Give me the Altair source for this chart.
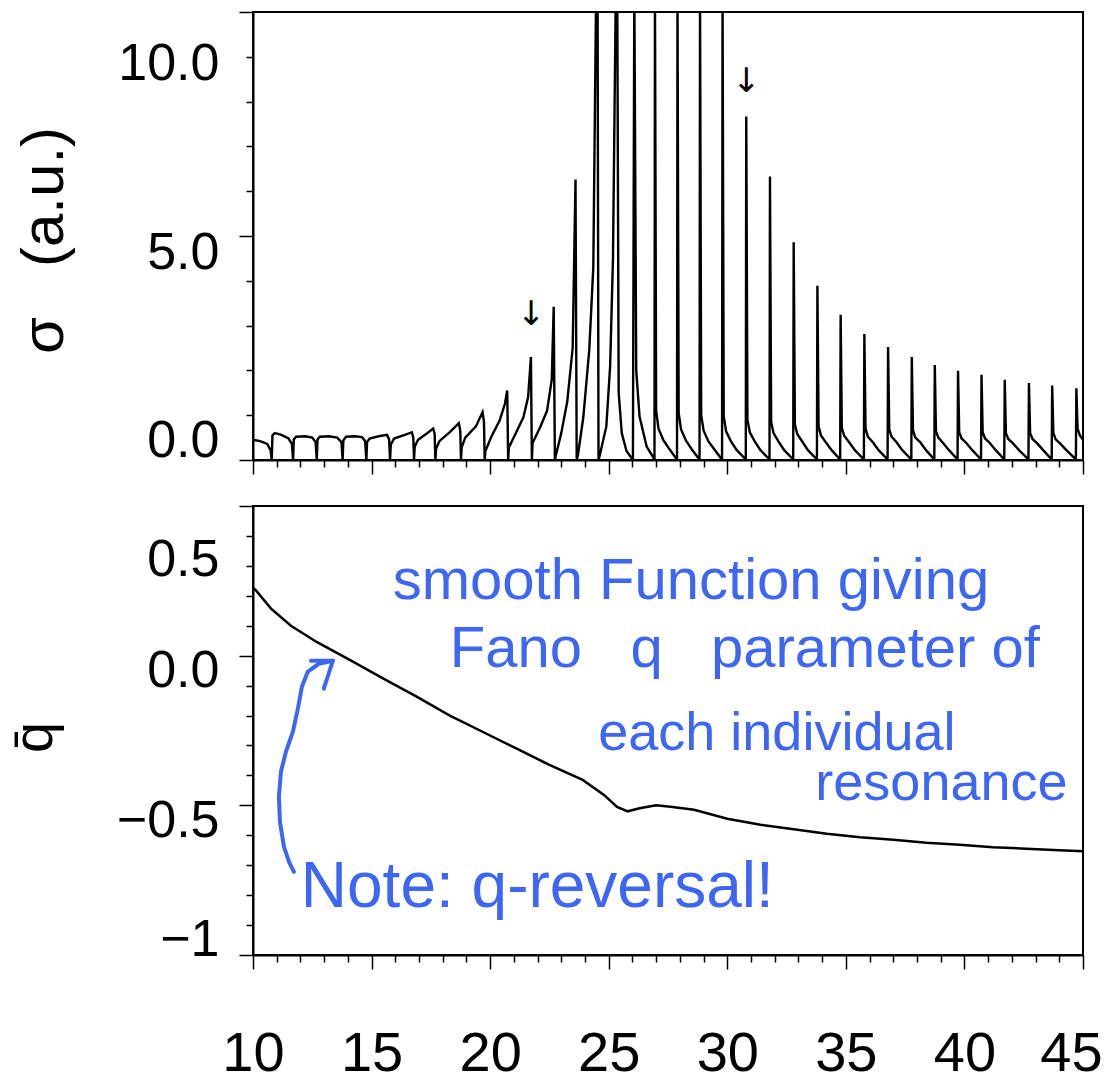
import altair as alt
import pandas as pd

# ---------------- data ----------------
sigma_x = [
    10.00, 10.30, 10.60, 10.74, 10.79,
    10.82, 10.92, 11.20, 11.50, 11.64, 11.69,
    11.72, 11.82, 12.20, 12.50, 12.64, 12.69,
    12.72, 12.82, 13.20, 13.55, 13.73, 13.78,
    13.81, 13.92, 14.30, 14.60, 14.73, 14.78,
    14.81, 14.92, 15.30, 15.65, 15.74, 15.78,
    15.81, 15.95, 16.40, 16.70, 16.76, 16.79,
    16.82, 16.96, 17.30, 17.60, 17.66, 17.69,
    17.72, 17.86, 18.30, 18.68, 18.74, 18.77,
    18.80, 18.95, 19.40, 19.68, 19.74, 19.77,
    19.80, 20.05, 20.40, 20.62, 20.72, 20.76,
    20.79, 21.10, 21.40, 21.60, 21.72, 21.76,
    21.79, 22.10, 22.40, 22.60, 22.68, 22.73,
    22.77, 23.00, 23.25, 23.48, 23.60, 23.65,
    23.70, 23.93, 24.18, 24.35, 24.47, 24.53, 24.57,
    24.62, 24.90, 25.06, 25.18, 25.30, 25.36, 25.42, 25.55, 25.75, 26.02,
    26.08, 26.16, 26.30, 26.60, 26.88, 26.93,
    26.95, 27.00, 27.10, 27.30, 27.55, 27.85,
    27.88, 27.90, 27.95, 28.05, 28.25, 28.50, 28.80,
    28.83, 28.85, 28.90, 29.00, 29.20, 29.45, 29.75,
    29.78, 29.80, 29.85, 29.95, 30.15, 30.40, 30.75,
    30.78, 30.80, 30.85, 30.95, 31.15, 31.40, 31.75,
    31.78, 31.80, 31.85, 31.95, 32.15, 32.40, 32.75,
    32.78, 32.80, 32.85, 32.95, 33.15, 33.40, 33.75,
    33.78, 33.80, 33.85, 33.95, 34.15, 34.40, 34.73,
    34.76, 34.78, 34.83, 34.93, 35.13, 35.38, 35.73,
    35.76, 35.78, 35.83, 35.93, 36.13, 36.38, 36.73,
    36.76, 36.78, 36.83, 36.93, 37.13, 37.38, 37.73,
    37.76, 37.78, 37.83, 37.93, 38.13, 38.38, 38.70,
    38.73, 38.75, 38.80, 38.90, 39.10, 39.35, 39.68,
    39.71, 39.73, 39.78, 39.88, 40.08, 40.33, 40.67,
    40.70, 40.72, 40.77, 40.87, 41.07, 41.32, 41.65,
    41.68, 41.70, 41.75, 41.85, 42.05, 42.30, 42.67,
    42.70, 42.72, 42.77, 42.87, 43.07, 43.32, 43.65,
    43.68, 43.70, 43.75, 43.85, 44.05, 44.30, 44.67,
    44.70, 44.72, 44.77, 44.87, 45.00,
]
sigma_y = [
    0.45, 0.42, 0.36, 0.22, 0.00,
    0.55, 0.60, 0.56, 0.48, 0.36, 0.00,
    0.46, 0.52, 0.53, 0.50, 0.40, 0.00,
    0.46, 0.52, 0.53, 0.50, 0.40, 0.00,
    0.44, 0.52, 0.53, 0.51, 0.42, 0.00,
    0.40, 0.48, 0.53, 0.56, 0.46, 0.00,
    0.34, 0.48, 0.56, 0.62, 0.50, 0.00,
    0.30, 0.45, 0.58, 0.70, 0.58, 0.00,
    0.25, 0.42, 0.62, 0.82, 0.66, 0.00,
    0.28, 0.50, 0.75, 1.07, 0.85, 0.00,
    0.20, 0.52, 0.88, 1.25, 1.55, 0.00,
    0.28, 0.62, 0.95, 1.40, 2.30, 0.00,
    0.38, 0.72, 1.10, 1.80, 3.42, 0.00,
    0.10, 0.60, 1.30, 2.50, 6.26, 0.00,
    0.10, 0.96, 2.46, 4.30, 10.5, 10.5, 0.00,
    0.10, 0.75, 2.10, 4.50, 10.5, 10.5, 1.50, 0.60, 0.20, 0.00,
    10.5, 2.00, 0.97, 0.30, 0.06, 0.00,
    10.5, 1.10, 0.70, 0.45, 0.25, 0.03,
    0.00, 10.5, 1.05, 0.68, 0.44, 0.24, 0.03,
    0.00, 10.5, 1.00, 0.66, 0.42, 0.24, 0.03,
    0.00, 10.5, 0.98, 0.64, 0.42, 0.22, 0.03,
    0.00, 7.67, 0.90, 0.62, 0.42, 0.22, 0.03,
    0.00, 6.33, 0.85, 0.60, 0.42, 0.22, 0.03,
    0.00, 4.86, 0.80, 0.58, 0.42, 0.22, 0.03,
    0.00, 3.89, 0.75, 0.55, 0.40, 0.22, 0.03,
    0.00, 3.24, 0.72, 0.54, 0.40, 0.22, 0.03,
    0.00, 2.81, 0.70, 0.52, 0.40, 0.22, 0.03,
    0.00, 2.52, 0.68, 0.52, 0.40, 0.22, 0.03,
    0.00, 2.30, 0.66, 0.50, 0.40, 0.22, 0.03,
    0.00, 2.12, 0.64, 0.50, 0.38, 0.22, 0.03,
    0.00, 1.99, 0.62, 0.48, 0.38, 0.22, 0.03,
    0.00, 1.90, 0.62, 0.48, 0.38, 0.22, 0.03,
    0.00, 1.79, 0.60, 0.47, 0.37, 0.22, 0.03,
    0.00, 1.72, 0.60, 0.47, 0.37, 0.22, 0.03,
    0.00, 1.66, 0.60, 0.46, 0.36, 0.22, 0.03,
    0.00, 1.60, 0.70, 0.55, 0.45,
]

q_x = [10.0, 10.1, 10.76, 11.6, 12.7, 14.1, 15.5, 16.9, 18.3, 19.7, 21.1, 22.5,
       23.9, 24.8, 25.35, 25.8, 26.3, 27.0, 27.6, 28.6, 30.0, 31.4, 32.8, 34.2,
       35.6, 37.0, 38.4, 39.8, 41.2, 42.6, 44.0, 45.0]
q_y = [0.225, 0.22, 0.157, 0.10, 0.045, -0.015, -0.077, -0.137, -0.20, -0.255,
       -0.31, -0.365, -0.415, -0.465, -0.505, -0.52, -0.51, -0.50, -0.505,
       -0.515, -0.545, -0.565, -0.58, -0.595, -0.607, -0.615, -0.625, -0.632,
       -0.64, -0.645, -0.65, -0.653]

x_tick_values = [10, 11, 12, 13, 14, 15, 16, 17, 18, 19, 20, 21, 22, 23, 24,
                 25, 26, 27, 28, 29, 30, 31, 32, 33, 34, 35, 36, 37, 38, 39,
                 40, 41, 42, 43, 44, 45]
sigma_tick_values = [0, 1, 2, 3, 4, 5, 6, 7, 8, 9, 10]
q_tick_values = [-1.0, -0.9, -0.8, -0.7, -0.6, -0.5, -0.4, -0.3, -0.2, -0.1,
                 0.0, 0.1, 0.2, 0.3, 0.4, 0.5]

arrow_x = [21.72, 30.80]
arrow_y = [3.24, 8.43]

NB = "\u00a0"
note_text = ["smooth Function giving",
             "Fano" + NB * 3 + "q" + NB * 3 + "parameter of",
             "each individual", "resonance", "Note: q-reversal!"]
note_x = [28.47, 30.74, 32.09, 39.03, 21.99]
note_y = [0.19, -0.037, -0.314, -0.481, -0.839]

curl_x = [11.725, 11.514, 11.304, 11.136, 11.094, 11.178, 11.388, 11.683,
          11.893, 12.061, 12.314, 12.777, 13.366,
          12.440, 13.366,
          12.987, 13.366]
curl_y = [-0.722, -0.688, -0.638, -0.555, -0.471, -0.388, -0.321, -0.254,
          -0.177, -0.104, -0.053, -0.027, -0.017,
          -0.017, -0.017,
          -0.110, -0.017]
curl_part = ["shaft"] * 13 + ["barb1"] * 2 + ["barb2"] * 2

# ---------------- styling ----------------
FONT = "Liberation Sans"
BLUE = "#3d66f2"
X_SCALE = alt.Scale(domain=[10, 45], nice=False, zero=False)
NOTE_SIZES = [58, 58, 54, 54, 64]


def tick_size(test):
    return {"condition": {"test": test, "value": 14}, "value": 7}


common_axis = dict(grid=False, domainColor="black", domainWidth=2,
                   tickColor="black", tickWidth=1.5, labelColor="black",
                   titleColor="black", labelFont=FONT, titleFont=FONT,
                   labelFontSize=52, titleFontSize=56, titleFontWeight="normal",
                   labelOverlap=False, labelFlush=False)

sig_df = pd.DataFrame({"x": sigma_x, "s": sigma_y, "i": list(range(len(sigma_x)))})
q_df = pd.DataFrame({"x": q_x, "q": q_y, "i": list(range(len(q_x)))})
arrow_df = pd.DataFrame({"x": arrow_x, "s": arrow_y, "t": ["↓", "↓"]})
note_df = pd.DataFrame({"x": note_x, "q": note_y, "t": note_text})
curl_df = pd.DataFrame({"x": curl_x, "q": curl_y, "part": curl_part,
                        "i": list(range(len(curl_x)))})

# ---------------- top panel ----------------
x_top_axis = alt.Axis(values=x_tick_values, labels=False, title=None,
                      tickSize=tick_size("datum.value % 5 == 0"), **common_axis)
y_top_axis = alt.Axis(values=sigma_tick_values,
                      labelExpr="datum.value % 5 == 0 ? format(datum.value, '.1f') : ''",
                      tickSize=tick_size("datum.value % 5 == 0"),
                      labelOffset={"condition": [
                          {"test": "datum.value == 10", "value": 51},
                          {"test": "datum.value == 0", "value": -20}],
                          "value": 16},
                      labelPadding=20,
                      title="σ" + NB * 3 + "(a.u.)", titleAngle=270,
                      titleX=-209, titleY=228,
                      titleAlign="center", titleBaseline="middle",
                      **{**common_axis, "titleFontSize": 60})
SIG_Y_SCALE = alt.Scale(domain=[0, 10], nice=False, zero=False)

top_line = alt.Chart(sig_df).mark_line(color="black", strokeWidth=2.4, clip=True).encode(
    x=alt.X("x:Q", scale=X_SCALE, axis=x_top_axis),
    y=alt.Y("s:Q", scale=SIG_Y_SCALE, axis=y_top_axis), order="i:Q")
top_arrows = alt.Chart(arrow_df).mark_text(font="DejaVu Sans", fontSize=34,
                                           color="black", baseline="middle").encode(
    x=alt.X("x:Q", scale=X_SCALE, axis=x_top_axis),
    y=alt.Y("s:Q", scale=SIG_Y_SCALE, axis=y_top_axis), text="t:N")
top = alt.layer(top_line, top_arrows).properties(width=830, height=448)

# ---------------- bottom panel ----------------
major_q = "abs(datum.value * 2 - round(datum.value * 2)) < 0.001"
x_bot_axis = alt.Axis(values=x_tick_values,
                      labelExpr="datum.value % 5 == 0 ? format(datum.value, 'd') : ''",
                      tickSize=tick_size("datum.value % 5 == 0"),
                      labelOffset={"condition": {"test": "datum.value == 45", "value": -12},
                                   "value": 0},
                      labelPadding=57, title=None,
                      **{**common_axis, "labelFontSize": 56})
y_bot_axis = alt.Axis(values=q_tick_values,
                      labelExpr="datum.value == -1 ? '\u22121' : (" + major_q +
                                " ? format(datum.value, '.1f') : '')",
                      tickSize=tick_size(major_q),
                      labelOffset={"condition": [
                          {"test": "datum.value == 0.5", "value": 53},
                          {"test": "datum.value == -1", "value": -16}],
                          "value": 15},
                      labelPadding=20,
                      title="q\u0304", titleAngle=270,
                      titleX=-219, titleY=231,
                      titleAlign="center", titleBaseline="middle",
                      **common_axis)
Q_Y_SCALE = alt.Scale(domain=[-1, 0.5], nice=False, zero=False)


def xb():
    return alt.X("x:Q", scale=X_SCALE, axis=x_bot_axis)


def yb():
    return alt.Y("q:Q", scale=Q_Y_SCALE, axis=y_bot_axis)


q_line = alt.Chart(q_df).mark_line(color="black", strokeWidth=2.5).encode(
    x=xb(), y=yb(), order="i:Q")

note_layers = []
for k in range(len(note_text)):
    note_layers.append(
        alt.Chart(note_df.iloc[[k]]).mark_text(
            font=FONT, fontSize=NOTE_SIZES[k], color=BLUE,
            align="center", baseline="alphabetic").encode(
            x=xb(), y=yb(), text="t:N"))

curl = alt.Chart(curl_df).mark_line(color=BLUE, strokeWidth=4, strokeCap="round",
                                    strokeJoin="round").encode(
    x=xb(), y=yb(), detail="part:N", order="i:Q")
bottom = alt.layer(q_line, *note_layers, curl).properties(width=830, height=449)

chart = alt.vconcat(top, bottom, spacing=28).properties(
    padding={"left": 5, "top": 10, "right": 1, "bottom": 5},
    background="white",
).configure_view(stroke="black", strokeWidth=2).configure_axis(
    labelOverlap=False, labelFlush=False)

chart.save("out.html", embed_options={"renderer": "svg", "actions": False})
